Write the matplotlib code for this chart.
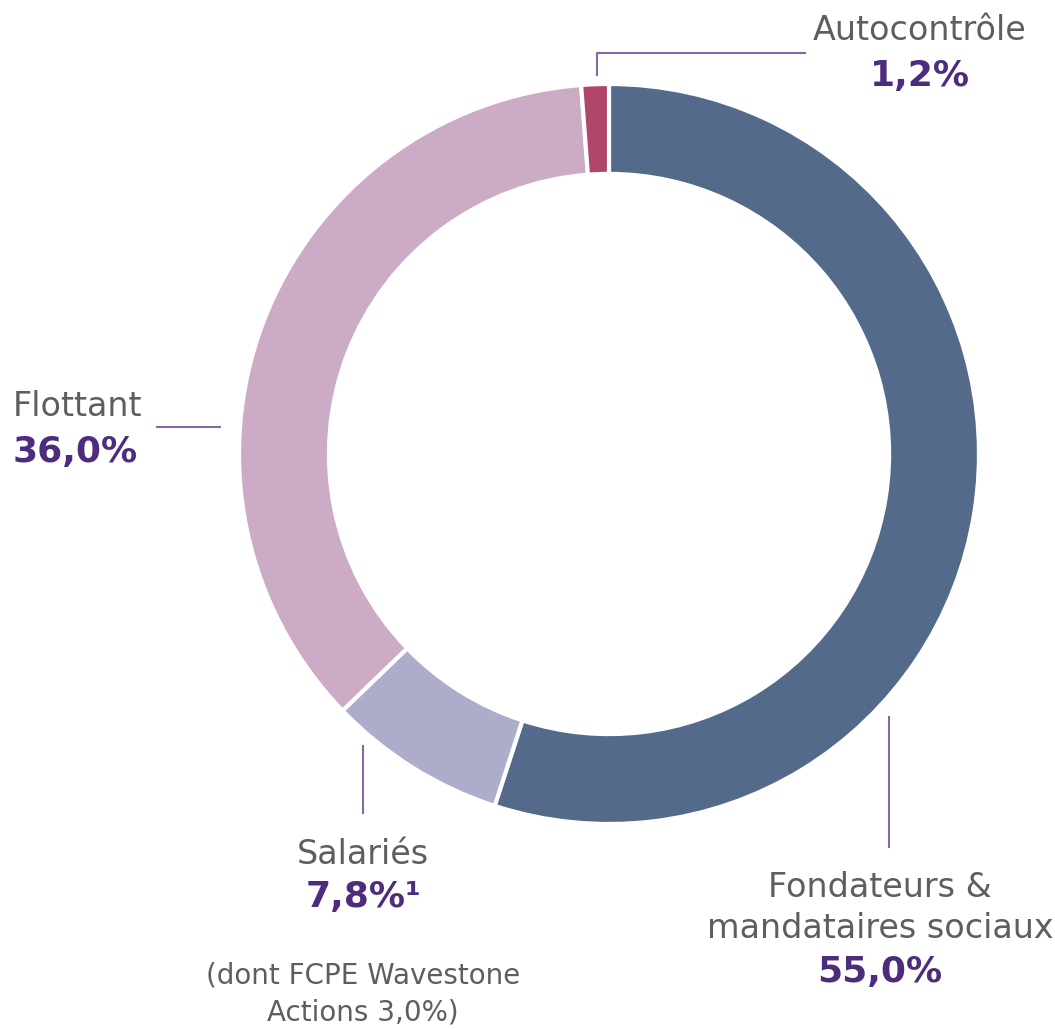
import matplotlib
matplotlib.use("Agg")
import matplotlib.pyplot as plt

labels = ["Fondateurs &\nmandataires sociaux", "Salariés", "Flottant", "Autocontrôle"]
values = [55.0, 7.8, 36.0, 1.2]
pct_labels = ["55,0%", "7,8%¹", "36,0%", "1,2%"]
colors = ["#546A8A", "#AEACCB", "#CCABC6", "#B0476B"]
note = "(dont FCPE Wavestone\nActions 3,0%)"

W, H = 1055, 1029
fig = plt.figure(figsize=(W / 100, H / 100), dpi=100)
ax = fig.add_axes([0, 0, 1, 1])

def Y(y):
    return H - y

cx, cy, R = 609, Y(454), 370
ax.pie(values, colors=colors, startangle=90, counterclock=False, radius=R,
       center=(cx, cy), wedgeprops=dict(width=R * 0.243, edgecolor="white", linewidth=3))
ax.set_xlim(0, W)
ax.set_ylim(0, H)
ax.set_aspect("equal")
ax.axis("off")

gray = "#5E5E5E"
purple = "#4D2C7D"
line_c = "#8568A0"
fs_lab = 24
fs_pct = 26

# Autocontrôle
ax.plot([597, 597, 805], [Y(75), Y(53), Y(53)], color=line_c, lw=1.5)
ax.text(920, Y(31), labels[3], ha="center", va="center", fontsize=fs_lab, color=gray)
ax.text(920, Y(76), pct_labels[3], ha="center", va="center", fontsize=fs_pct, color=purple, fontweight="bold")

# Flottant
ax.plot([157, 220], [Y(427), Y(427)], color=line_c, lw=1.5)
ax.text(13, Y(407), labels[2], ha="left", va="center", fontsize=fs_lab, color=gray)
ax.text(13, Y(452), pct_labels[2], ha="left", va="center", fontsize=fs_pct, color=purple, fontweight="bold")

# Salariés
ax.plot([363, 363], [Y(746), Y(813)], color=line_c, lw=1.5)
ax.text(363, Y(855), labels[1], ha="center", va="center", fontsize=fs_lab, color=gray)
ax.text(363, Y(897), pct_labels[1], ha="center", va="center", fontsize=fs_pct, color=purple, fontweight="bold")
ax.text(363, Y(994), note, ha="center", va="center", fontsize=20, color=gray, linespacing=1.4)

# Fondateurs
ax.plot([889, 889], [Y(717), Y(847)], color=line_c, lw=1.5)
ax.text(880, Y(908), labels[0], ha="center", va="center", fontsize=fs_lab, color=gray, linespacing=1.3)
ax.text(880, Y(972), pct_labels[0], ha="center", va="center", fontsize=fs_pct, color=purple, fontweight="bold")

fig.savefig("out.png", dpi=100, facecolor="white")
